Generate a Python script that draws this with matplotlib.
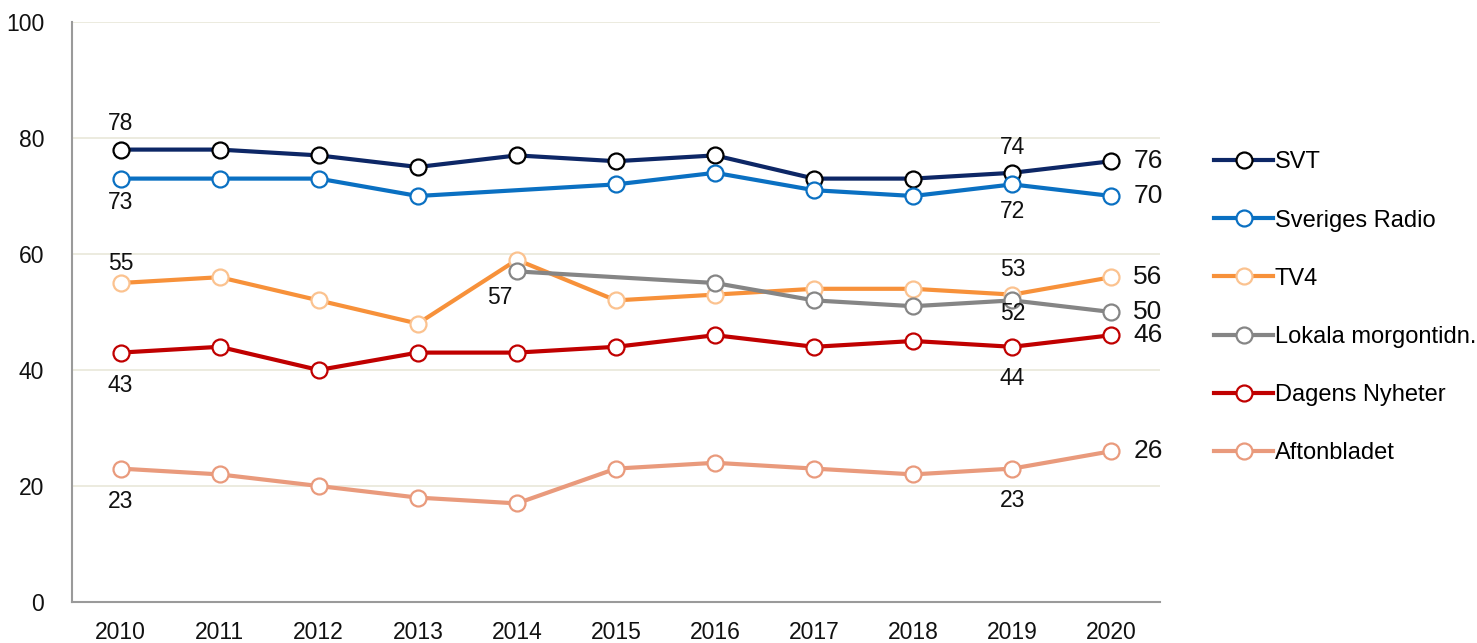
import numpy as np
import matplotlib
matplotlib.use("Agg")
from matplotlib import pyplot as plt

plt.rcParams['font.family'] = ['Liberation Sans', 'DejaVu Sans']

years = [2010, 2011, 2012, 2013, 2014, 2015, 2016, 2017, 2018, 2019, 2020]
nan = np.nan
svt = [78, 78, 77, 75, 77, 76, 77, 73, 73, 74, 76]
sr = [73, 73, 73, 70, nan, 72, 74, 71, 70, 72, 70]
tv4 = [55, 56, 52, 48, 59, 52, 53, 54, 54, 53, 56]
lokala = [nan, nan, nan, nan, 57, nan, 55, 52, 51, 52, 50]
dn = [43, 44, 40, 43, 43, 44, 46, 44, 45, 44, 46]
afton = [23, 22, 20, 18, 17, 23, 24, 23, 22, 23, 26]

names = ['SVT', 'Sveriges Radio', 'TV4', 'Lokala morgontidn.', 'Dagens Nyheter', 'Aftonbladet']
series = [svt, sr, tv4, lokala, dn, afton]
line_colors = ['#0d2766', '#0a70c2', '#f7913a', '#858585', '#c00000', '#e99a7c']
edge_colors = ['#000000', '#0a70c2', '#fbc28f', '#858585', '#c00000', '#e99a7c']

# labels inside the plot: (series index, year, vertical offset in px)
inner_labels = [
    (0, 2010, 26), (1, 2010, -24), (2, 2010, 19), (4, 2010, -33), (5, 2010, -33),
    (3, 2014, -26),
    (0, 2019, 25), (1, 2019, -27), (2, 2019, 25), (3, 2019, -13), (4, 2019, -32), (5, 2019, -32),
]

fig = plt.figure(figsize=(14.77, 6.43), dpi=100)
ax = fig.add_axes([72 / 1477, 1 - 602 / 643, (1160 - 72) / 1477, 580 / 643])

x = np.array(years)
handles = []
for vals, name, lc, ec in zip(series, names, line_colors, edge_colors):
    y = np.array(vals, dtype=float)
    ok = ~np.isnan(y)
    h, = ax.plot(x[ok], y[ok], '-o', color=lc, lw=3.0, ms=11.5, mfc='white',
                 mec=ec, mew=1.6, label=name, zorder=3)
    handles.append(h)

px = 72 / 100.0  # points per pixel
for i, yr, off in inner_labels:
    v = series[i][years.index(yr)]
    dx = -17 if (i == 3 and yr == 2014) else 0
    ax.annotate(f'{v:g}', (yr, v), xytext=(dx * px, off * px), textcoords='offset points',
                ha='center', va='center', fontsize=16.5, color='#111111')

for vals in series:
    v = vals[-1]
    ax.annotate(f'{v:g}', (years[-1], v), xytext=(22 * px, 0), textcoords='offset points',
                ha='left', va='center', fontsize=19, color='#111111')

ax.set_xlim(2009.51, 2020.49)
ax.set_ylim(0, 100)
ax.set_xticks(years)
ax.set_yticks(range(0, 101, 20))
ax.tick_params(length=0, labelsize=16.5, colors='#111111')
ax.tick_params(axis='x', pad=14)
ax.tick_params(axis='y', pad=20)
ax.grid(axis='y', color='#e9e7d9', lw=1.2)
ax.set_axisbelow(True)
for s in ['top', 'right']:
    ax.spines[s].set_visible(False)
for s in ['left', 'bottom']:
    ax.spines[s].set_color('#9a9a9a')
    ax.spines[s].set_linewidth(1.5)

fig.legend(handles=handles, loc='upper left', bbox_to_anchor=(1205 / 1477, 1 - 142 / 643),
           frameon=False, fontsize=17, handlelength=2.5, handletextpad=0.05,
           labelspacing=1.53, borderaxespad=0)

fig.savefig('out.png', dpi=100)
